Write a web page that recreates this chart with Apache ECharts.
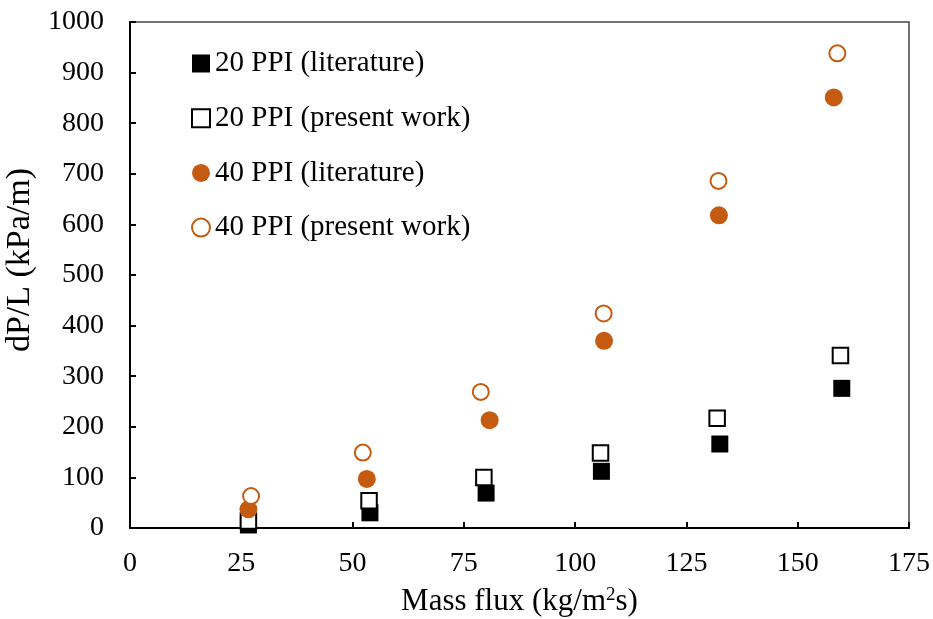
<!DOCTYPE html>
<html>
<head>
<meta charset="utf-8">
<script src="https://cdn.jsdelivr.net/npm/echarts@6/dist/echarts.min.js"></script>
<style>
  html, body { margin: 0; padding: 0; background: #fff; }
  #chart { width: 933px; height: 619px; }
</style>
</head>
<body>
<div id="chart"></div>
<script>
// Pressure drop per unit length versus mass flux, 20 and 40 PPI foams
const seriesNames = [
  '20 PPI (literature)',
  '20 PPI (present work)',
  '40 PPI (literature)',
  '40 PPI (present work)'
];
// [mass flux (kg/m2s), dP/L (kPa/m)]
const ppi20Literature = [[26.6, 6], [53.9, 30], [80.0, 69], [105.9, 112], [132.5, 166], [159.9, 276]];
const ppi20Present    = [[26.6, 14], [53.7, 54], [79.5, 100], [105.7, 148], [131.9, 217], [159.6, 341]];
const ppi40Literature = [[26.6, 37], [53.2, 97], [80.8, 213], [106.5, 370], [132.3, 618], [158.1, 851]];
const ppi40Present    = [[27.2, 63], [52.3, 149], [78.8, 269], [106.4, 424], [132.2, 686], [158.9, 938]];

const xTicks = [0, 25, 50, 75, 100, 125, 150, 175];
const yTicks = [0, 100, 200, 300, 400, 500, 600, 700, 800, 900, 1000];

const orange = '#C55A11';
const font = '"Liberation Serif", "Times New Roman", serif';

const chart = echarts.init(document.getElementById('chart'));
chart.setOption({
  animation: false,
  textStyle: { fontFamily: font },
  grid: {
    left: 130, top: 22, right: 24, bottom: 91,
    outerBoundsMode: 'none', containLabel: false,
    show: true, borderColor: '#444', borderWidth: 1.5, backgroundColor: 'transparent'
  },
  legend: {
    orient: 'vertical',
    left: 186, top: 43.5,
    itemGap: 24.7,
    itemWidth: 18, itemHeight: 18,
    textStyle: { fontFamily: font, fontSize: 29, lineHeight: 30, color: '#000' },
    data: seriesNames.map((n, i) => ({
      name: n,
      icon: i < 2 ? 'rect' : 'circle'
    }))
  },
  xAxis: {
    type: 'value',
    min: xTicks[0], max: xTicks[xTicks.length - 1], interval: 25,
    name: 'Mass flux (kg/m{sup|2}s)',
    nameLocation: 'middle', nameGap: 58,
    nameTextStyle: {
      fontFamily: font, fontSize: 31, color: '#000',
      rich: { sup: { fontFamily: font, fontSize: 19, verticalAlign: 'top', padding: [0, 0, 12, 0], color: '#000' } }
    },
    axisLine: { show: true, onZero: false, lineStyle: { color: '#000', width: 2 } },
    axisTick: { show: true, inside: true, length: 6, lineStyle: { color: '#000', width: 2 } },
    axisLabel: { fontFamily: font, fontSize: 28, color: '#000', margin: 22 },
    splitLine: { show: false }
  },
  yAxis: {
    type: 'value',
    min: yTicks[0], max: yTicks[yTicks.length - 1], interval: 100,
    name: 'dP/L (kPa/m)',
    nameLocation: 'middle', nameGap: 90, nameRotate: 90,
    nameTextStyle: { fontFamily: font, fontSize: 34, color: '#000', padding: [0, 0, 0, 30] },
    axisLine: { show: true, onZero: false, lineStyle: { color: '#000', width: 2 } },
    axisTick: { show: true, inside: true, length: 6, lineStyle: { color: '#000', width: 2 } },
    axisLabel: { fontFamily: font, fontSize: 28, color: '#000', margin: 26, formatter: v => String(v) },
    splitLine: { show: false }
  },
  series: [
    {
      name: seriesNames[0], type: 'scatter', data: ppi20Literature,
      symbol: 'rect', symbolSize: 17,
      itemStyle: { color: '#000', opacity: 1 }
    },
    {
      name: seriesNames[1], type: 'scatter', data: ppi20Present,
      symbol: 'rect', symbolSize: 15.5,
      itemStyle: { color: '#fff', borderColor: '#000', borderWidth: 2, opacity: 1 }
    },
    {
      name: seriesNames[2], type: 'scatter', data: ppi40Literature,
      symbol: 'circle', symbolSize: 18,
      itemStyle: { color: orange, opacity: 1 }
    },
    {
      name: seriesNames[3], type: 'scatter', data: ppi40Present,
      symbol: 'circle', symbolSize: 16,
      itemStyle: { color: '#fff', borderColor: orange, borderWidth: 2, opacity: 1 }
    }
  ]
});
</script>
</body>
</html>
